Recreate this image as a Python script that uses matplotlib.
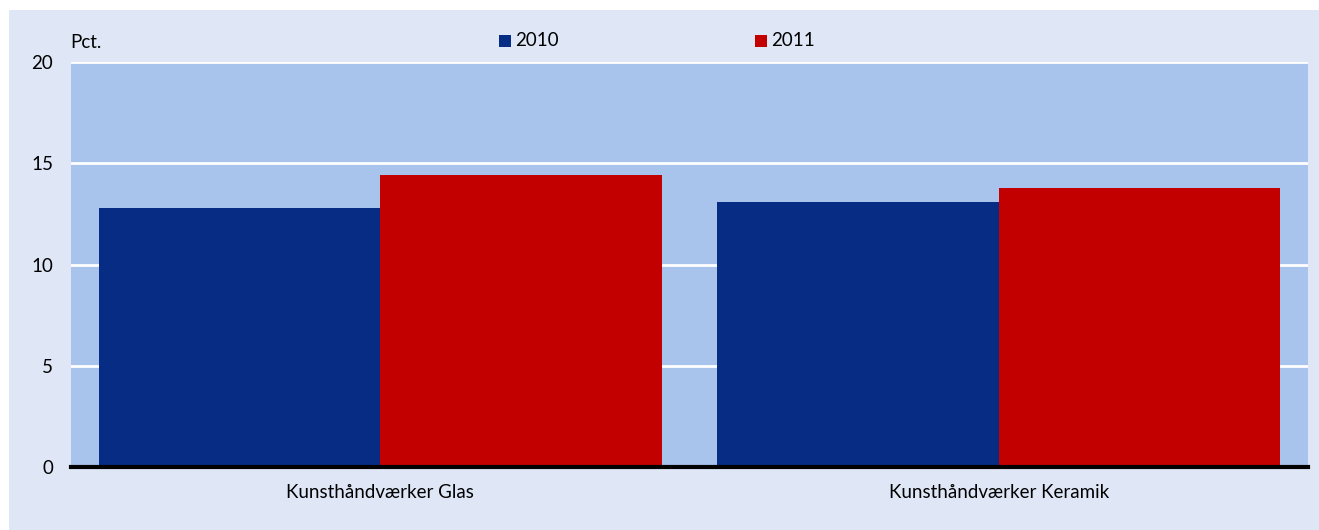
import matplotlib.pyplot as plt
import numpy as np
from matplotlib.patches import Rectangle

plt.rcParams['font.family'] = ['Lato', 'DejaVu Sans']

# data
categories = ['Kunsthåndværker Glas', 'Kunsthåndværker Keramik']
years = ['2010', '2011']
values_2010 = [12.8, 13.1]
values_2011 = [14.4, 13.8]
yticks = [0, 5, 10, 15, 20]

col_2010 = '#062c84'
col_2011 = '#c30000'
fig_bg = '#dfe7f7'
ax_bg = '#a8c4ec'

fig = plt.figure(figsize=(13.19, 5.30), dpi=100, facecolor='white')
fig.patches.append(Rectangle((9 / 1319, 0), 1, 1 - 10 / 530, transform=fig.transFigure,
                             facecolor=fig_bg, edgecolor='none', zorder=-5))

ax = fig.add_axes([71 / 1319, 1 - 467 / 530, (1308 - 71) / 1319, (467 - 62) / 530])
ax.set_facecolor(ax_bg)

x = np.arange(len(categories))
w = 0.455
ax.bar(x - w / 2, values_2010, width=w, color=col_2010, zorder=3, label=years[0])
ax.bar(x + w / 2, values_2011, width=w, color=col_2011, zorder=3, label=years[1])

ax.set_xlim(-0.5, 1.5)
ax.set_ylim(0, 20)
ax.set_yticks(yticks)
ax.set_yticklabels([str(t) for t in yticks], fontsize=13.5)
ax.set_xticks(x)
ax.set_xticklabels(categories, fontsize=13.5)
ax.tick_params(length=0)
ax.tick_params(axis='y', pad=13)
ax.tick_params(axis='x', pad=12)

ax.grid(axis='y', color='white', linewidth=2, zorder=1)
ax.set_axisbelow(True)
for s in ['top', 'right', 'left']:
    ax.spines[s].set_visible(False)
ax.spines['bottom'].set_linewidth(3)
ax.spines['bottom'].set_color('black')
ax.spines['bottom'].set_zorder(5)

fig.text(70 / 1319, 1 - 42 / 530, 'Pct.', fontsize=13.5, va='center', ha='left')

# legend
for xs, lab, c in [(499, years[0], col_2010), (755, years[1], col_2011)]:
    fig.patches.append(Rectangle((xs / 1319, 1 - 47 / 530), 12 / 1319, 12 / 530,
                                 transform=fig.transFigure, facecolor=c, edgecolor='none'))
    fig.text((xs + 16) / 1319, 1 - 41 / 530, lab, fontsize=13.5, va='center', ha='left')

fig.savefig('out.png', dpi=100, facecolor=fig.get_facecolor())
